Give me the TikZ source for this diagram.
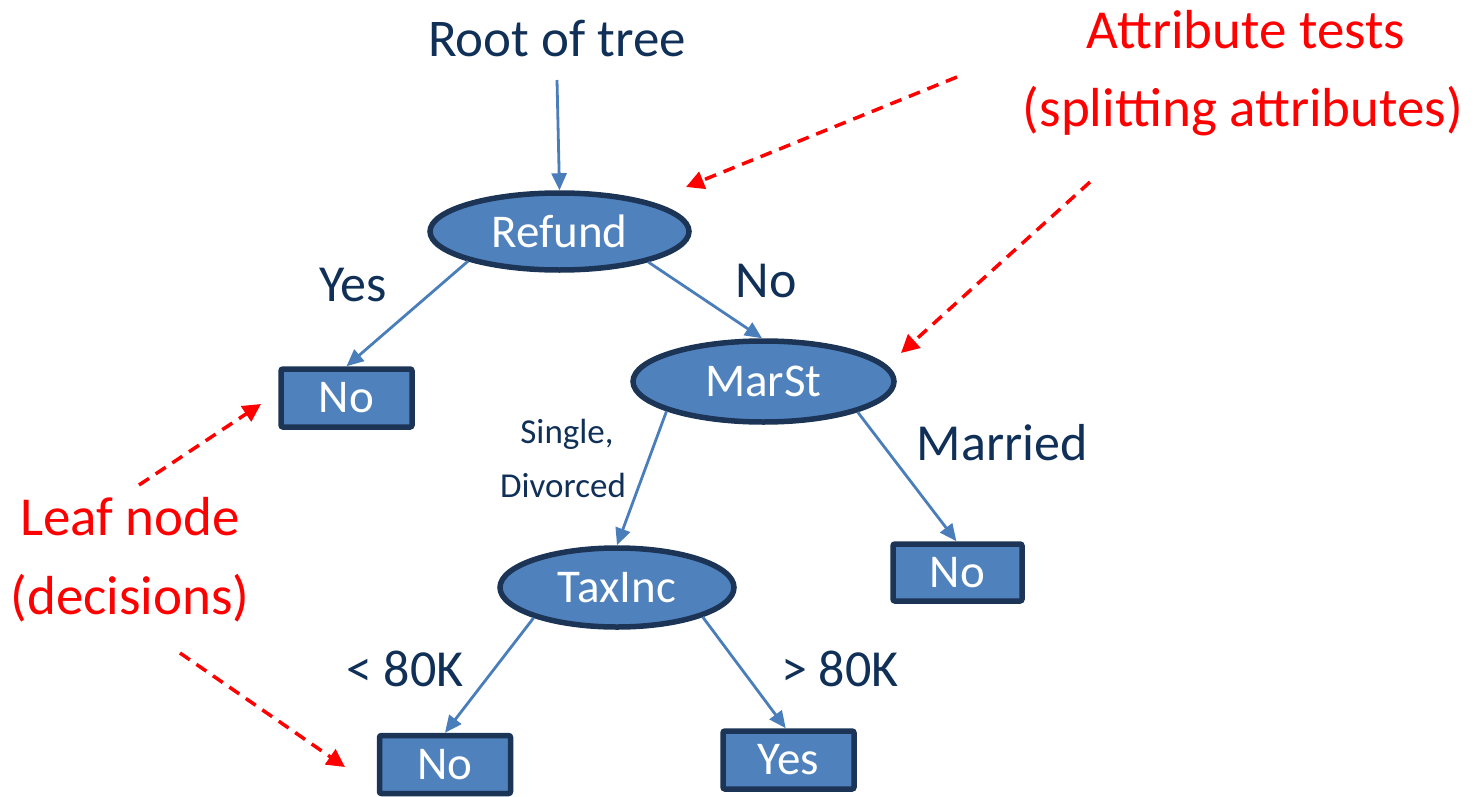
\documentclass[tikz,border=0pt]{standalone}
\usepackage{fontspec}
\setmainfont{Carlito}
\usetikzlibrary{shapes.geometric,arrows.meta}
\definecolor{nodefill}{RGB}{79,129,189}
\definecolor{nodeline}{RGB}{28,52,86}
\definecolor{linkblue}{RGB}{74,126,187}
\definecolor{labelnavy}{RGB}{16,48,88}
\definecolor{notered}{RGB}{255,0,0}
\begin{document}
\begin{tikzpicture}[x=1pt,y=-1pt,
  testnode/.style={ellipse, fill=nodefill, draw=nodeline, line width=5.5pt,
    text=white, inner sep=0pt, font=\fontsize{47}{50}\selectfont},
  leafbox/.style={rectangle, rounded corners=2pt, fill=nodefill, draw=nodeline,
    line width=5.5pt, minimum width=131pt, minimum height=58pt, text=white,
    inner sep=0pt, font=\fontsize{47}{50}\selectfont},
  link/.style={draw=linkblue, line width=2.8pt, -{Triangle[length=17pt,width=15pt]}},
  pointer/.style={draw=notered, line width=3.5pt, dash pattern=on 12pt off 8pt,
    -{Triangle[length=18pt,width=18pt]}},
  branch/.style={text=labelnavy, font=\fontsize{52}{56}\selectfont, inner sep=0pt, anchor=base},
  smallbranch/.style={text=labelnavy, font=\fontsize{35}{40}\selectfont, inner sep=0pt, anchor=base},
  note/.style={text=notered, font=\fontsize{55}{60}\selectfont, inner sep=0pt, anchor=base}]

\useasboundingbox (0,0) rectangle (1474,797);

% tree nodes
\node[testnode, minimum width=259pt, minimum height=77pt] (refund) at (559.5,231.5) {Refund};
\node[testnode, minimum width=261pt, minimum height=81pt] (marst) at (763.5,381.5) {MarSt};
\node[testnode, minimum width=234pt, minimum height=79pt] (taxinc) at (617,587.5) {TaxInc};
\node[leafbox] (leafrefund) at (346.5,398) {No};
\node[leafbox, minimum width=129pt, minimum height=57pt] (leafmarried) at (957.5,572.5) {No};
\node[leafbox] (leaflow) at (445,764.5) {No};
\node[leafbox] (leafhigh) at (788.5,760) {Yes};

% root caption
\node[branch, font=\fontsize{53}{58}\selectfont] (root) at (557,57) {Root of tree};
\coordinate (rootfoot) at (557,80);

% branches
\draw[link] (rootfoot) -- (refund.north);
\draw[link] (refund.198) -- (leafrefund.north);
\draw[link] (refund.341) -- (marst.92);
\draw[link] (marst.197) -- (taxinc.north);
\draw[link] (marst.342) -- (leafmarried.92);
\draw[link] (taxinc.200) -- (leaflow.north);
\draw[link] (taxinc.341) -- (leafhigh.95);

% branch labels
\node[branch] (lblyes) at (353,301) {Yes};
\node[branch] (lblno) at (766,297) {No};
\node[smallbranch] (lblsingle) at (567,443) {Single,};
\node[smallbranch] (lbldivorced) at (563,497) {Divorced};
\node[branch] (lblmarried) at (1002,460) {Married};
\node[branch] (lbllow) at (405,686) {< 80K};
\node[branch] (lblhigh) at (840,686) {> 80K};

% annotations
\node[note] (attrA) at (1246,49) {Attribute tests};
\node[note] (attrB) at (1243,127) {(splitting attributes)};
\node[note] (leafA) at (130,535) {Leaf node};
\node[note] (leafB) at (130,614) {(decisions)};

\coordinate (attrfromA) at (957,77);
\coordinate (attrtoA) at (686,187);
\coordinate (attrfromB) at (1090,182);
\coordinate (attrtoB) at (901,353);
\coordinate (leaffromA) at (139,485);
\coordinate (leaftoA) at (261,404);
\coordinate (leaffromB) at (180,653);
\coordinate (leaftoB) at (345,767);

\draw[pointer] (attrfromA) -- (attrtoA);
\draw[pointer] (attrfromB) -- (attrtoB);
\draw[pointer] (leaffromA) -- (leaftoA);
\draw[pointer] (leaffromB) -- (leaftoB);
\end{tikzpicture}
\end{document}
